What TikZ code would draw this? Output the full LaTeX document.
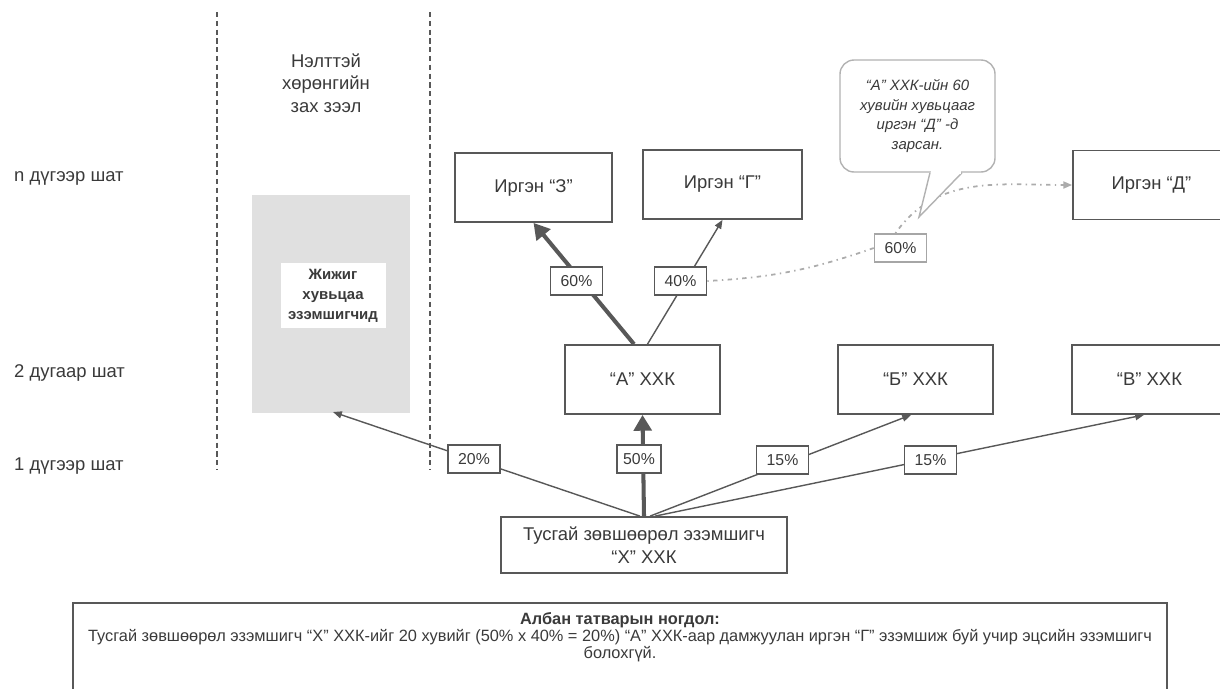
\documentclass[tikz,border=0pt]{standalone}
\usepackage{fontspec}
\setmainfont{Liberation Sans}
\usetikzlibrary{arrows.meta}
\definecolor{inkgray}{HTML}{3A3A3A}
\definecolor{linegray}{HTML}{585858}

\tikzset{
  box/.style={draw=linegray,line width=1pt,fill=white,minimum width=3.14cm,minimum height=1.38cm,
    font=\fontsize{10.5}{12.5}\selectfont,text=inkgray},
  pct/.style={draw=linegray,line width=0.9pt,fill=white,minimum width=1.04cm,minimum height=0.56cm,
    inner sep=1pt,font=\fontsize{9}{10}\selectfont,text=inkgray},
  stage/.style={anchor=west,font=\fontsize{10.5}{12}\selectfont,text=inkgray},
  thinarr/.style={draw=linegray,line width=0.8pt,-{Triangle[length=5pt,width=4pt]}},
  thickarr/.style={draw=linegray,line width=2.3pt,-{Triangle[length=9pt,width=10pt]}},
  dotarr/.style={draw=gray!65,line width=1pt,dash pattern=on 0.8pt off 2.5pt on 2.5pt off 2.5pt},
  divider/.style={draw=linegray,line width=0.9pt,densely dashed},
  notebox/.style={draw=gray!60,line width=0.8pt,fill=white},
}

\begin{document}
\begin{tikzpicture}
\useasboundingbox (0,0) rectangle (24.4,-13.76);

% columns
\coordinate (d1t) at (4.34,-0.24);
\coordinate (d1b) at (4.34,-9.40);
\coordinate (d2t) at (8.60,-0.24);
\coordinate (d2b) at (8.60,-9.40);
\draw [divider] (d1t) -- (d1b);
\draw [divider] (d2t) -- (d2b);

\node (stageN) at (0.16,-3.56) [stage] {n дүгээр шат};
\node (stage2) at (0.16,-7.45) [stage] {2 дугаар шат};
\node (stage1) at (0.16,-9.32) [stage] {1 дүгээр шат};

\node (market) at (6.52,-1.66) [align=center,font=\fontsize{10.5}{12.8}\selectfont,text=inkgray] {Нэлттэй\\хөрөнгийн\\зах зээл};

% small holders
\node (minor) at (6.62,-6.08) [fill=black!12,minimum width=3.16cm,minimum height=4.36cm] {};
\node (minortxt) at (6.66,-5.91) [fill=white,minimum width=2.1cm,minimum height=1.3cm,align=center,
  font=\bfseries\fontsize{8.5}{11.3}\selectfont,text=inkgray] {Жижиг\\хувьцаа\\эзэмшигчид};
\coordinate (minortip) at (6.66,-8.24);

% owners
\node (irgenZ) at (10.67,-3.75) [box] {Иргэн “З”};
\node (irgenG) at (14.45,-3.69) [box,minimum width=3.18cm] {Иргэн “Г”};
\node (irgenD) at (23.03,-3.70) [box] {Иргэн “Д”};

\node (xxkA) at (12.85,-7.59) [box,minimum width=3.10cm] {“А” ХХК};
\node (xxkB) at (18.31,-7.59) [box,minimum width=3.10cm] {“Б” ХХК};
\node (xxkV) at (22.99,-7.59) [box,minimum width=3.10cm] {“В” ХХК};

\node (xxkX) at (12.88,-10.90) [box,minimum width=5.72cm,minimum height=1.12cm,align=center,
  font=\fontsize{10.5}{13}\selectfont] {Тусгай зөвшөөрөл эзэмшигч\\“Х” ХХК};

% shares
\draw [thickarr] (xxkX.north) -- (xxkA.south);
\draw [thinarr] ([xshift=-0.08cm]xxkX.north) -- (minortip);
\draw [thinarr] ([xshift=0.12cm]xxkX.north) -- ([xshift=-0.09cm]xxkB.south);
\draw [thinarr] ([xshift=0.22cm]xxkX.north) -- ([xshift=-0.11cm]xxkV.south);
\draw [thickarr] ([xshift=-0.17cm]xxkA.north) -- (irgenZ.south);
\draw [thinarr] ([xshift=0.1cm]xxkA.north) -- (irgenG.south);

\node (p20) at (9.48,-9.18) [pct] {20\%};
\node (p50) at (12.78,-9.18) [pct,minimum width=0.88cm] {50\%};
\node (p15b) at (15.65,-9.20) [pct] {15\%};
\node (p15v) at (18.61,-9.20) [pct] {15\%};
\node (p60) at (11.53,-5.62) [pct] {60\%};
\node (p40) at (13.61,-5.62) [pct] {40\%};
\node (p60d) at (18.01,-4.96) [pct,draw=gray!70] {60\%};

% sale to D
\draw [dotarr] (p40.east) to[bend right=8] (p60d.west);
\draw [dotarr,-{Triangle[length=5pt,width=4pt]}] ([xshift=-0.1cm]p60d.north) to[out=55,in=180] (irgenD.west);

\node (note) at (18.35,-2.32) [notebox,rounded corners=8pt,minimum width=3.1cm,minimum height=2.24cm,
  align=center,font=\itshape\fontsize{8.5}{11.2}\selectfont,text=inkgray]
  {“А” ХХК-ийн 60\\хувийн хувьцааг\\иргэн “Д” -д\\зарсан.};
\coordinate (notetip) at (18.38,-4.34);
\filldraw [notebox] ([xshift=0.25cm]note.south) -- (notetip) -- ([xshift=0.89cm]note.south);
\draw [white,line width=1.4pt] ([xshift=0.27cm]note.south) -- ([xshift=0.87cm]note.south);

% tax note
\node (taxbox) at (12.40,-13.03) [draw=linegray,line width=1pt,minimum width=21.88cm,minimum height=1.94cm] {};
\node (taxtxt) at (12.4,-12.24) [anchor=north,inner sep=0pt,align=center,
  font=\fontsize{9.3}{9.7}\selectfont,text=inkgray]
  {\textbf{Албан татварын ногдол:}\\
   Тусгай зөвшөөрөл эзэмшигч “Х” ХХК-ийг 20 хувийг (50\% x 40\% = 20\%) “А” ХХК-аар дамжуулан иргэн “Г” эзэмшиж буй учир эцсийн эзэмшигч\\
   болохгүй.};
\end{tikzpicture}
\end{document}
